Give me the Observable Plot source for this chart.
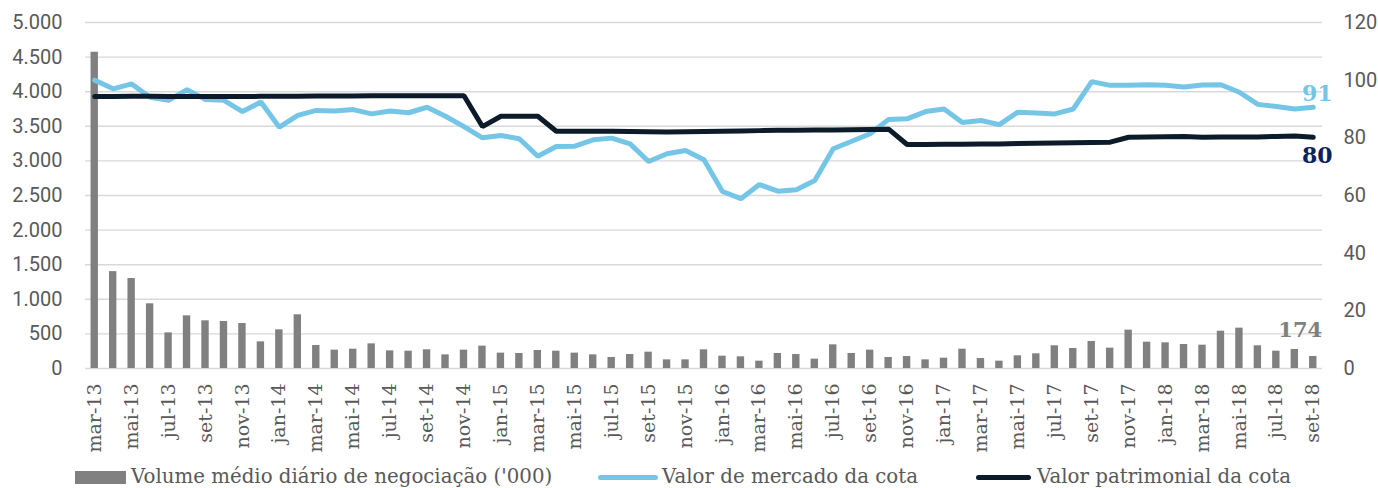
<!DOCTYPE html>
<html>
<head>
<meta charset="utf-8">
<script src="https://cdn.jsdelivr.net/npm/d3@7"></script>
<script src="https://cdn.jsdelivr.net/npm/@observablehq/plot@0.6"></script>
<style>
  body { margin: 0; background: #fff; }
  #wrap { position: relative; width: 1378px; height: 488px; overflow: hidden; }
  #chart { position: absolute; left: 0; top: 0; }
  #legend { position: absolute; left: 0; top: 466px; width: 1378px; height: 22px;
            font-family: "DejaVu Serif", serif; font-size: 19.8px; color: #595959; }
  .sw { position: absolute; }
  .lt { position: absolute; top: 0; line-height: 22px; white-space: nowrap; }
</style>
</head>
<body>
<div id="wrap">
  <div id="chart"></div>
  <div id="legend"></div>
</div>
<script>
const months = ["mar-13","abr-13","mai-13","jun-13","jul-13","ago-13","set-13","out-13","nov-13","dez-13",
  "jan-14","fev-14","mar-14","abr-14","mai-14","jun-14","jul-14","ago-14","set-14","out-14","nov-14","dez-14",
  "jan-15","fev-15","mar-15","abr-15","mai-15","jun-15","jul-15","ago-15","set-15","out-15","nov-15","dez-15",
  "jan-16","fev-16","mar-16","abr-16","mai-16","jun-16","jul-16","ago-16","set-16","out-16","nov-16","dez-16",
  "jan-17","fev-17","mar-17","abr-17","mai-17","jun-17","jul-17","ago-17","set-17","out-17","nov-17","dez-17",
  "jan-18","fev-18","mar-18","abr-18","mai-18","jun-18","jul-18","ago-18","set-18"];

const volume = [4570,1400,1300,935,515,761,689,679,650,385,
  559,776,332,265,279,356,255,250,270,197,
  265,323,222,217,260,250,222,197,159,202,
  236,125,125,270,178,169,106,217,202,135,
  342,217,265,159,173,125,149,279,144,106,
  183,212,328,289,390,294,554,380,371,347,
  337,539,583,328,250,275,174];

const marketValue = [100,97.0,98.7,94.1,93.0,96.7,93.3,93.0,89.1,92.4,
  83.7,87.8,89.5,89.3,89.8,88.3,89.3,88.7,90.6,87.5,
  83.9,80.0,80.8,79.7,73.6,77.0,77.1,79.3,79.9,77.9,
  71.8,74.5,75.6,72.4,61.4,58.9,63.8,61.5,62.0,65.2,
  76.2,78.8,81.4,86.4,86.6,89.1,90.0,85.3,86.0,84.6,
  88.9,88.6,88.3,90.0,99.5,98.2,98.2,98.4,98.2,97.6,
  98.3,98.4,95.8,91.6,90.9,90.0,90.6];

const navValue = [94.3,94.3,94.4,94.4,94.3,94.3,94.3,94.3,94.3,94.4,
  94.4,94.4,94.5,94.5,94.5,94.6,94.6,94.6,94.6,94.6,
  94.6,83.9,87.5,87.5,87.5,82.3,82.3,82.3,82.3,82.2,
  82.1,82.0,82.1,82.2,82.3,82.4,82.5,82.6,82.6,82.7,
  82.7,82.8,82.9,83.0,77.7,77.7,77.8,77.8,77.9,77.9,
  78.0,78.1,78.2,78.3,78.4,78.5,80.2,80.3,80.4,80.5,
  80.2,80.3,80.3,80.3,80.5,80.6,80.2];

const leftTicks = [0,500,1000,1500,2000,2500,3000,3500,4000,4500,5000];
const rightTicks = [0,20,40,60,80,100,120];
const xTickLabels = months.filter((m, i) => i % 2 === 0);

const seriesNames = ["Volume médio diário de negociação ('000)", "Valor de mercado da cota", "Valor patrimonial da cota"];

const LEFT_MAX = 5000, RIGHT_MAX = 120;
const toLeft = v => v * LEFT_MAX / RIGHT_MAX;

const rows = months.map((m, i) => ({month: m, vol: volume[i], mkt: marketValue[i], nav: navValue[i]}));
const last = rows[rows.length - 1];

const fmt = d3.format(",");
const ptFmt = v => fmt(v).replace(/,/g, ".");

const textColor = "#595959";
const blue = "#75c6e6";
const dark = "#0c1b29";
const gray = "#808080";
const serif = "DejaVu Serif, serif";

const chart = Plot.plot({
  width: 1378,
  height: 460,
  marginTop: 22,
  marginBottom: 92,
  marginLeft: 85,
  marginRight: 56,
  x: {type: "band", domain: months, paddingInner: 0.6, paddingOuter: 0.3},
  y: {domain: [0, LEFT_MAX]},
  style: {fontFamily: "Roboto, sans-serif", color: textColor, background: "#fff"},
  marks: [
    Plot.ruleY(leftTicks, {stroke: "#d9d9d9", strokeWidth: 1.4}),
    Plot.barY(rows, {x: "month", y: "vol", fill: gray}),
    Plot.line(rows, {x: "month", y: d => toLeft(d.mkt), stroke: blue, strokeWidth: 5, strokeLinejoin: "miter"}),
    Plot.line(rows, {x: "month", y: d => toLeft(d.nav), stroke: dark, strokeWidth: 5, strokeLinecap: "round", strokeLinejoin: "miter"}),
    Plot.axisY(leftTicks, {anchor: "left", tickSize: 0, tickPadding: 23, tickFormat: ptFmt, fontSize: 20, label: null}),
    Plot.axisY(rightTicks.map(toLeft), {anchor: "right", tickSize: 0, tickPadding: 21, tickFormat: v => Math.round(v * RIGHT_MAX / LEFT_MAX), fontSize: 20, label: null}),
    Plot.axisX(xTickLabels, {anchor: "bottom", tickSize: 0, tickPadding: 15, tickRotate: -90, fontSize: 19, fontFamily: serif, label: null}),
    Plot.text([last], {x: "month", y: d => toLeft(d.mkt), text: d => String(Math.round(d.mkt)), fill: blue, fontWeight: "bold", fontSize: 22, fontFamily: serif, dx: 4, dy: -13}),
    Plot.text([last], {x: "month", y: d => toLeft(d.nav), text: d => String(Math.round(d.nav)), fill: "#0b2262", fontWeight: "bold", fontSize: 22, fontFamily: serif, dx: 4, dy: 19}),
    Plot.text([last], {x: "month", y: "vol", text: d => String(d.vol), fill: gray, fontWeight: "bold", fontSize: 21, fontFamily: serif, dx: -13, dy: -26})
  ]
});
document.getElementById("chart").appendChild(chart);

const legend = document.getElementById("legend");
const items = [
  {name: seriesNames[0], sw: {left: 75, width: 51, top: 5, height: 13, background: gray}, tx: 131},
  {name: seriesNames[1], sw: {left: 598, width: 60, top: 9, height: 5, background: blue, borderRadius: "3px"}, tx: 662},
  {name: seriesNames[2], sw: {left: 976, width: 55, top: 9, height: 5, background: dark, borderRadius: "3px"}, tx: 1037}
];
for (const it of items) {
  const s = document.createElement("div");
  s.className = "sw";
  Object.assign(s.style, {left: it.sw.left + "px", width: it.sw.width + "px", top: it.sw.top + "px", height: it.sw.height + "px", background: it.sw.background, borderRadius: it.sw.borderRadius || "0"});
  legend.appendChild(s);
  const t = document.createElement("div");
  t.className = "lt";
  t.style.left = it.tx + "px";
  t.textContent = it.name;
  legend.appendChild(t);
}
</script>
</body>
</html>
